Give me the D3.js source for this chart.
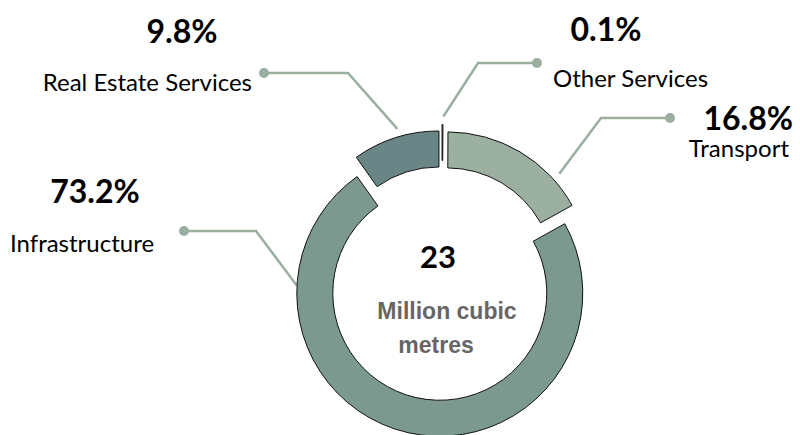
<!DOCTYPE html>
<html>
<head>
<meta charset="utf-8">
<script src="https://cdn.jsdelivr.net/npm/d3@7"></script>
<style>
  body { margin: 0; background: #fff; }
  svg { display: block; }
</style>
</head>
<body>
<script>
// data, clockwise from 12 o'clock
var categories = ["Other Services", "Transport", "Infrastructure", "Real Estate Services"];
var shares = [0.1, 16.8, 73.2, 9.8];
var shareLabels = ["0.1%", "16.8%", "73.2%", "9.8%"];
var totalValue = "23";
var totalUnit = ["Million cubic", "metres"];

var w = 800, h = 435;
var cx = 442, cy = 283.5;
var outerR = 143, innerR = 107;

var colors = {
    "Other Services": "#6a8585",
    "Transport": "#9bb0a0",
    "Infrastructure": "#7b998f",
    "Real Estate Services": "#6a8585"
};
var explode = { "Other Services": 16, "Transport": 10, "Infrastructure": 10, "Real Estate Services": 10 };

// label layout: pct text, name text, dot / elbow of leader, angle (deg) + radius where leader meets slice
var layout = {
    "Real Estate Services": { pct: [182, 43, "middle"], name: [252, 91, "end"], dot: [264, 73], elbow: [348, 73], a: 344, r: 151 },
    "Infrastructure": { pct: [95, 203, "middle"], name: [10, 252, "start"], dot: [184, 231], elbow: [256, 231], a: 273, r: 143 },
    "Other Services": { pct: [606, 41, "middle"], name: [553, 87, "start"], dot: [537, 63], elbow: [478, 63], a: 0.5, r: 151 },
    "Transport": { pct: [793, 130, "end"], name: [789, 157, "end"], dot: [670, 118], elbow: [601, 118], a: 48, r: 151 }
};

var svg = d3.select("body").append("svg")
    .attr("width", w)
    .attr("height", h);

var data = categories.map(function(c, i) { return { name: c, value: shares[i], label: shareLabels[i] }; });

var pie = d3.pie()
    .sort(null)
    .value(function(d) { return d.value; });

var arc = d3.arc()
    .innerRadius(innerR)
    .outerRadius(outerR);

var arcs = pie(data);

// slice centre after exploding it outwards
function sliceCenter(d) {
    var mid = (d.startAngle + d.endAngle) / 2;
    var e = explode[d.data.name];
    return [cx + e * Math.sin(mid), cy - e * Math.cos(mid)];
}

// leader lines first so slices sit on top
var leader = "#9aafa0";
arcs.forEach(function(d) {
    var L = layout[d.data.name];
    var c = sliceCenter(d);
    var a = L.a * Math.PI / 180;
    var end = [c[0] + L.r * Math.sin(a), c[1] - L.r * Math.cos(a)];
    svg.append("path")
        .attr("d", d3.line()([L.dot, L.elbow, end]))
        .attr("fill", "none")
        .attr("stroke", leader)
        .attr("stroke-width", 2.5);
    svg.append("circle")
        .attr("cx", L.dot[0])
        .attr("cy", L.dot[1])
        .attr("r", 5)
        .attr("fill", leader);
});

svg.selectAll("path.slice")
    .data(arcs)
    .enter()
    .append("path")
    .attr("class", "slice")
    .attr("transform", function(d) { var c = sliceCenter(d); return "translate(" + c[0] + "," + c[1] + ")"; })
    .attr("d", arc)
    .attr("fill", function(d) { return colors[d.data.name]; })
    .attr("stroke", "#111")
    .attr("stroke-width", 1);

// labels
arcs.forEach(function(d) {
    var L = layout[d.data.name];
    svg.append("text")
        .attr("x", L.pct[0]).attr("y", L.pct[1])
        .attr("text-anchor", L.pct[2])
        .attr("font-family", "Lato, 'Open Sans', sans-serif")
        .attr("font-weight", "bold")
        .attr("font-size", "32px")
        .attr("fill", "#000")
        .text(d.data.label);
    svg.append("text")
        .attr("x", L.name[0]).attr("y", L.name[1])
        .attr("text-anchor", L.name[2])
        .attr("font-family", "Lato, 'Open Sans', sans-serif")
        .attr("font-size", "24px")
        .attr("fill", "#000")
        .text(d.data.name);
});

// centre text
svg.append("text")
    .attr("x", 438).attr("y", 268)
    .attr("text-anchor", "middle")
    .attr("font-family", "Lato, sans-serif")
    .attr("font-weight", "bold")
    .attr("font-size", "31px")
    .attr("fill", "#000")
    .text(totalValue);

svg.append("text")
    .attr("x", 447).attr("y", 319)
    .attr("text-anchor", "middle")
    .attr("font-family", "'Liberation Sans', Arial, sans-serif")
    .attr("font-weight", "bold")
    .attr("font-size", "23px")
    .attr("fill", "#666")
    .text(totalUnit[0]);

svg.append("text")
    .attr("x", 436).attr("y", 353)
    .attr("text-anchor", "middle")
    .attr("font-family", "'Liberation Sans', Arial, sans-serif")
    .attr("font-weight", "bold")
    .attr("font-size", "23px")
    .attr("fill", "#666")
    .text(totalUnit[1]);
</script>
</body>
</html>
